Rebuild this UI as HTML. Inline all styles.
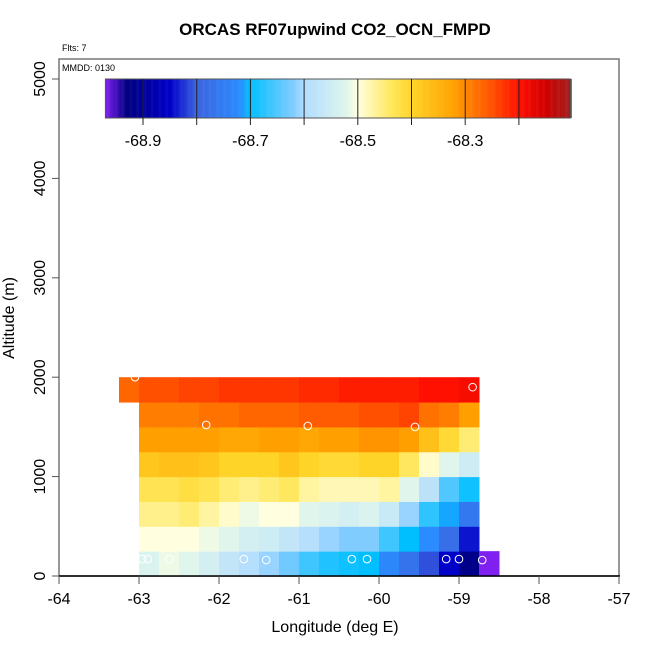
<!DOCTYPE html>
<html><head><meta charset="utf-8"><style>
html,body{margin:0;padding:0;background:#fff}
svg{display:block;font-family:"Liberation Sans",sans-serif}
</style></head><body>
<svg id="chart" width="650" height="650" viewBox="0 0 650 650" xmlns="http://www.w3.org/2000/svg">
<text x="335" y="35" text-anchor="middle" font-size="17" font-weight="bold">ORCAS RF07upwind CO2_OCN_FMPD</text>
<text x="62" y="51" font-size="9">Flts: 7</text>
<rect x="59" y="59" width="560" height="517" fill="none" stroke="#777" stroke-width="1.5"/>
<text x="62" y="71" font-size="9">MMDD: 0130</text>
<g id="cells"></g>
<g id="points"></g>
<g id="cbar"></g>
<g id="axes"></g>
<text x="335" y="632" text-anchor="middle" font-size="16">Longitude (deg E)</text>
<text transform="translate(14,318) rotate(-90)" text-anchor="middle" font-size="16">Altitude (m)</text>
</svg>
<script>
const NS="http://www.w3.org/2000/svg";
const xTicks=[-64,-63,-62,-61,-60,-59,-58,-57];
const yTicks=[0,1000,2000,3000,4000,5000];
const cbTicks=[-68.9,-68.8,-68.7,-68.6,-68.5,-68.4,-68.3,-68.2];
const cbLabels=[-68.9,-68.7,-68.5,-68.3];
const rowAlts=[0,250,500,750,1000,1250,1500,1750];
const rowStartLon=[-63,-63,-63,-63,-63,-63,-63,-63.25];
const cellWidthDeg=0.25;
const row0=[-68.53,-68.51,-68.52,-68.54,-68.57,-68.59,-68.61,-68.63,-68.66,-68.68,-68.69,-68.70,-68.73,-68.77,-68.81,-68.85,-68.92,-68.97];
const row1=[-68.50,-68.50,-68.50,-68.51,-68.52,-68.54,-68.55,-68.57,-68.59,-68.61,-68.62,-68.62,-68.66,-68.70,-68.72,-68.78,-68.84];
const row2=[-68.46,-68.46,-68.45,-68.47,-68.49,-68.51,-68.50,-68.50,-68.52,-68.53,-68.54,-68.53,-68.56,-68.61,-68.67,-68.71,-68.76];
const row3=[-68.43,-68.43,-68.42,-68.43,-68.45,-68.46,-68.45,-68.44,-68.47,-68.48,-68.48,-68.48,-68.47,-68.52,-68.58,-68.65,-68.69];
const row4=[-68.38,-68.37,-68.37,-68.38,-68.40,-68.40,-68.40,-68.38,-68.40,-68.41,-68.41,-68.40,-68.40,-68.44,-68.49,-68.52,-68.55];
const row5=[-68.32,-68.32,-68.32,-68.32,-68.33,-68.33,-68.32,-68.32,-68.33,-68.32,-68.32,-68.31,-68.31,-68.32,-68.37,-68.41,-68.45];
const row6=[-68.29,-68.29,-68.29,-68.28,-68.28,-68.27,-68.27,-68.27,-68.26,-68.26,-68.26,-68.25,-68.25,-68.24,-68.28,-68.29,-68.32];
const row7=[-68.27,-68.25,-68.25,-68.24,-68.24,-68.23,-68.23,-68.23,-68.23,-68.22,-68.22,-68.21,-68.21,-68.21,-68.21,-68.20,-68.20,-68.19];
const ptLon=[-63.05,-58.83,-62.16,-60.89,-59.55,-62.96,-62.89,-62.62,-61.69,-61.41,-60.34,-60.15,-59.16,-59.0,-58.71];
const ptAlt=[2000,1900,1520,1510,1500,170,170,170,170,160,170,170,170,170,160];
const rows=[row0,row1,row2,row3,row4,row5,row6,row7];
const stopV=[-68.97,-68.93,-68.85,-68.8,-68.72,-68.7,-68.62,-68.6,-68.52,-68.5,-68.44,-68.4,-68.32,-68.3,-68.25,-68.2,-68.15,-68.104];
const stopC=["#8020f0","#000080","#0000c8","#3c64e0","#2a8cff","#00bfff","#80ccff","#b0dcff","#e0f6ec","#ffffe0","#ffe860","#ffd428","#ffa000","#ff8800","#ff5000","#ff1000","#d00000","#a02020"];
const X=l=>59+(l+64)*80;
const Y=a=>576-a*0.0994;
const CB=v=>143+(v+68.9)*537;
function hex(c){return [1,3,5].map(i=>parseInt(c.substr(i,2),16));}
function col(v){
  if(v<=stopV[0])return stopC[0];
  for(let i=1;i<stopV.length;i++){if(v<=stopV[i]){const t=(v-stopV[i-1])/(stopV[i]-stopV[i-1]);const a=hex(stopC[i-1]),b=hex(stopC[i]);return "rgb("+a.map((x,k)=>Math.round(x+(b[k]-x)*t)).join(",")+")";}}
  return stopC[stopC.length-1];
}
function mk(tag,attrs,parent){const e=document.createElementNS(NS,tag);for(const k in attrs)e.setAttribute(k,attrs[k]);parent.appendChild(e);return e;}
const gc=document.getElementById('cells');
rows.forEach((r,ri)=>{r.forEach((v,ci)=>{
  const l=rowStartLon[ri]+ci*cellWidthDeg;
  const x0=X(l),x1=X(l+cellWidthDeg),y0=Y(rowAlts[ri]+250),y1=Y(rowAlts[ri]);
  const e=mk('rect',{x:x0,y:y0,width:x1-x0+0.5,height:y1-y0+0.5,fill:col(v)},gc);
  
  
});});
const gp=document.getElementById('points');
ptLon.forEach((l,i)=>{const e=mk('circle',{cx:X(l),cy:Y(ptAlt[i]),r:3.8,fill:'none',stroke:'#fff','stroke-width':1},gp);
  
  });
const gb=document.getElementById('cbar');
const cbL=-68.97,cbR=-68.104;
for(let v=cbL;v<cbR;v+=0.002){const e=mk('rect',{x:CB(v),y:79,width:1.3,height:39,fill:col(v+0.001)},gb);
  
  }
mk('rect',{x:CB(cbL),y:79,width:CB(cbR)-CB(cbL),height:39,fill:'none',stroke:'#555','stroke-width':1},gb);
cbTicks.forEach(v=>{const e=mk('line',{x1:CB(v),x2:CB(v),y1:79,y2:125,stroke:'#222','stroke-width':1},gb);
  
  });
cbLabels.forEach(v=>{const t=mk('text',{x:CB(v),y:146,'text-anchor':'middle','font-size':16},gb);t.textContent=v.toFixed(1);
  
  });
const ga=document.getElementById('axes');
mk('line',{x1:59,x2:620,y1:576,y2:576,stroke:'#000','stroke-width':1.5},ga);
xTicks.forEach(v=>{mk('line',{x1:X(v),x2:X(v),y1:576,y2:584,stroke:'#555','stroke-width':1},ga);
  const t=mk('text',{x:X(v),y:604,'text-anchor':'middle','font-size':16},ga);t.textContent=v;
  
  });
yTicks.forEach(v=>{mk('line',{x1:52,x2:59,y1:Y(v),y2:Y(v),stroke:'#555','stroke-width':1},ga);
  const t=mk('text',{transform:`translate(45,${Y(v)}) rotate(-90)`,'text-anchor':'middle','font-size':16},ga);t.textContent=v;
  
  });
</script>
</body></html>
